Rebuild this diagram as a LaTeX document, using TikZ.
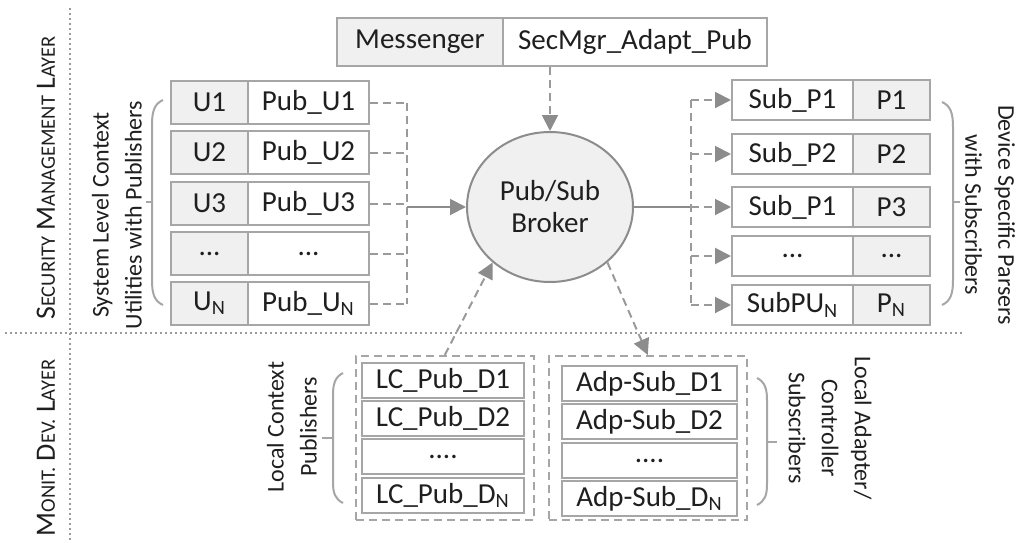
\documentclass[tikz,border=0pt]{standalone}
\usepackage{fontspec}
\setmainfont{Carlito}
\usetikzlibrary{shapes.geometric,arrows.meta}
\definecolor{boxc}{HTML}{A6A6A6}
\definecolor{gfill}{HTML}{F0F0F0}
\definecolor{linec}{HTML}{8C8C8C}
\definecolor{dashc}{HTML}{9A9A9A}
\definecolor{dotc}{HTML}{9A9A9A}
\definecolor{txt}{HTML}{1F1F1F}
\newcommand{\fakesc}[2]{{\fontsize{14}{16}\selectfont #1}{\fontsize{10.25}{12}\selectfont #2}}
\newcommand{\boxfont}{\fontsize{14.5}{16}\selectfont}
\newcommand{\lblfont}{\fontsize{12}{16.5}\selectfont}
\tikzset{
  bx/.style={draw=boxc, line width=1pt, fill=white, inner sep=0pt, anchor=north west, font=\boxfont, text=txt},
  gbx/.style={bx, fill=gfill},
  lrow/.style={minimum height=21.5pt},
  rrow/.style={minimum height=20pt},
  crow/.style={minimum height=17.5pt},
  narrowcol/.style={minimum width=38.5pt},
  widecol/.style={minimum width=60.5pt},
  dbox/.style={draw=boxc, line width=0.8pt, dash pattern=on 4pt off 2.5pt, inner sep=0pt, anchor=north west, minimum height=82pt},
  dsh/.style={draw=dashc, line width=1pt, dash pattern=on 4pt off 2.5pt},
  sol/.style={draw=linec, line width=1pt},
  tip/.style={-{Triangle[length=8pt,width=8pt,fill=linec,color=linec]}},
  layerline/.style={draw=dotc, line width=1pt, dash pattern=on 1pt off 1.5pt},
  brace/.style={draw=boxc, line width=1pt},
  lbl/.style={font=\lblfont, text=txt, align=center, inner sep=0pt},
}
\begin{document}
\begin{tikzpicture}[x=0.5pt,y=-0.5pt]
\useasboundingbox (0,0) rectangle (1019,542);

% layer separators
\draw[layerline] (70,8) -- (70,542);
\draw[layerline] (5,333) -- (962,333);
\node[lbl, rotate=90, font=\fontsize{14}{16}\selectfont] (sml) at (46,178) {\fakesc{S}{ECURITY} \fakesc{M}{ANAGEMENT} \fakesc{L}{AYER}};
\node[lbl, rotate=90, font=\fontsize{14}{16}\selectfont] (mdl) at (46,448) {\fakesc{M}{ONIT.} \fakesc{D}{EV.} \fakesc{L}{AYER}};

% messenger
\node[gbx, minimum width=83pt, minimum height=24pt] (msg) at (336,17) {Messenger};
\node[bx, minimum width=132pt, minimum height=24pt] (secmgr) at (502,17) {SecMgr\_Adapt\_Pub};

% broker
\node[ellipse, draw=linec, line width=1pt, fill=gfill, minimum width=83pt, minimum height=75pt, inner sep=0pt, font=\boxfont, text=txt, align=center] (broker) at (550,207) {Pub/Sub\\Broker};

% left table
\node[gbx, lrow, narrowcol] (u1) at (170,80) {U1};
\node[bx, lrow, widecol] (pub1) at (247,80) {Pub\_U1};
\node[gbx, lrow, narrowcol] (u2) at (170,130) {U2};
\node[bx, lrow, widecol] (pub2) at (247,130) {Pub\_U2};
\node[gbx, lrow, narrowcol] (u3) at (170,181) {U3};
\node[bx, lrow, widecol] (pub3) at (247,181) {Pub\_U3};
\node[gbx, lrow, narrowcol] (u4) at (170,231) {...};
\node[bx, lrow, widecol] (pub4) at (247,231) {...};
\node[gbx, lrow, narrowcol] (u5) at (170,281) {U\textsubscript{N}};
\node[bx, lrow, widecol] (pub5) at (247,281) {Pub\_U\textsubscript{N}};

% right table
\node[bx, rrow, widecol] (sub1) at (731,79) {Sub\_P1};
\node[gbx, rrow, narrowcol] (p1) at (852,79) {P1};
\node[bx, rrow, widecol] (sub2) at (731,133) {Sub\_P2};
\node[gbx, rrow, narrowcol] (p2) at (852,133) {P2};
\node[bx, rrow, widecol] (sub3) at (731,186) {Sub\_P1};
\node[gbx, rrow, narrowcol] (p3) at (852,186) {P3};
\node[bx, rrow, widecol] (sub4) at (731,235) {...};
\node[gbx, rrow, narrowcol] (p4) at (852,235) {...};
\node[bx, rrow, widecol] (sub5) at (731,284) {SubPU\textsubscript{N}};
\node[gbx, rrow, narrowcol] (p5) at (852,284) {P\textsubscript{N}};

% local context publishers
\node[dbox, minimum width=89pt] (lcout) at (355,355) {};
\node[bx, crow, minimum width=81pt] (lc1) at (361,362) {LC\_Pub\_D1};
\node[bx, crow, minimum width=81pt] (lc2) at (361,400) {LC\_Pub\_D2};
\node[bx, crow, minimum width=81pt] (lc3) at (361,438) {....};
\node[bx, crow, minimum width=81pt] (lc4) at (361,477) {LC\_Pub\_D\textsubscript{N}};

% adapter subscribers
\node[dbox, minimum width=99pt] (adout) at (548,355) {};
\node[bx, crow, minimum width=87.5pt] (ad1) at (561,365) {Adp-Sub\_D1};
\node[bx, crow, minimum width=87.5pt] (ad2) at (561,403) {Adp-Sub\_D2};
\node[bx, crow, minimum width=87.5pt] (ad3) at (561,442) {....};
\node[bx, crow, minimum width=87.5pt] (ad4) at (561,480) {Adp-Sub\_D\textsubscript{N}};

% labels
\node[lbl, rotate=90] (sysl) at (117,215) {System Level Context\\Utilities with Publishers};
\node[lbl, rotate=-90] (devl) at (990,215) {Device Specific Parsers\\with Subscribers};
\node[lbl, rotate=90] (lcl) at (292,427) {Local Context\\Publishers};
\node[lbl, rotate=-90] (adl) at (830,428) {Local Adapter/\\Controller\\Subscribers};

% braces
\draw[brace] (163,100) .. controls (154,104) and (152,112) .. (152,125) -- (152,280) .. controls (152,293) and (154,301) .. (163,305);
\draw[brace] (152,202) -- (146,202);
\draw[brace] (942,102) .. controls (951,106) and (953,114) .. (953,127) -- (953,280) .. controls (953,293) and (951,301) .. (942,305);
\draw[brace] (953,202) -- (960,202);
\draw[brace] (343,373) .. controls (335,377) and (333,384) .. (333,395) -- (333,482) .. controls (333,493) and (335,499) .. (343,503);
\draw[brace] (333,438) -- (322,438);
\draw[brace] (757,378) .. controls (765,382) and (767,389) .. (767,400) -- (767,484) .. controls (767,495) and (765,501) .. (757,505);
\draw[brace] (767,442) -- (777,442);

% left bus
\coordinate (lbus) at (407,207);
\foreach \i in {1,...,5} {\draw[dsh] (pub\i.east) -- (lbus |- pub\i.east);}
\draw[dsh] (lbus |- pub1.east) -- (lbus |- pub5.east);
\draw[sol, tip] (lbus) -- (broker.west);

% right bus
\coordinate (rbus) at (691,207);
\draw[sol] (broker.east) -- (rbus);
\draw[dsh] (rbus |- sub1.west) -- (rbus |- sub5.west);
\foreach \i in {1,...,5} {\draw[dsh, tip] (rbus |- sub\i.west) -- (sub\i.west);}

% messenger to broker
\draw[dsh, tip] (broker.north |- secmgr.south) -- (broker.north);

% local publishers / subscribers
\draw[dsh, tip] (lcout.north) -- (broker.224);
\draw[dsh, tip] (broker.316) -- (adout.north);
\end{tikzpicture}
\end{document}
